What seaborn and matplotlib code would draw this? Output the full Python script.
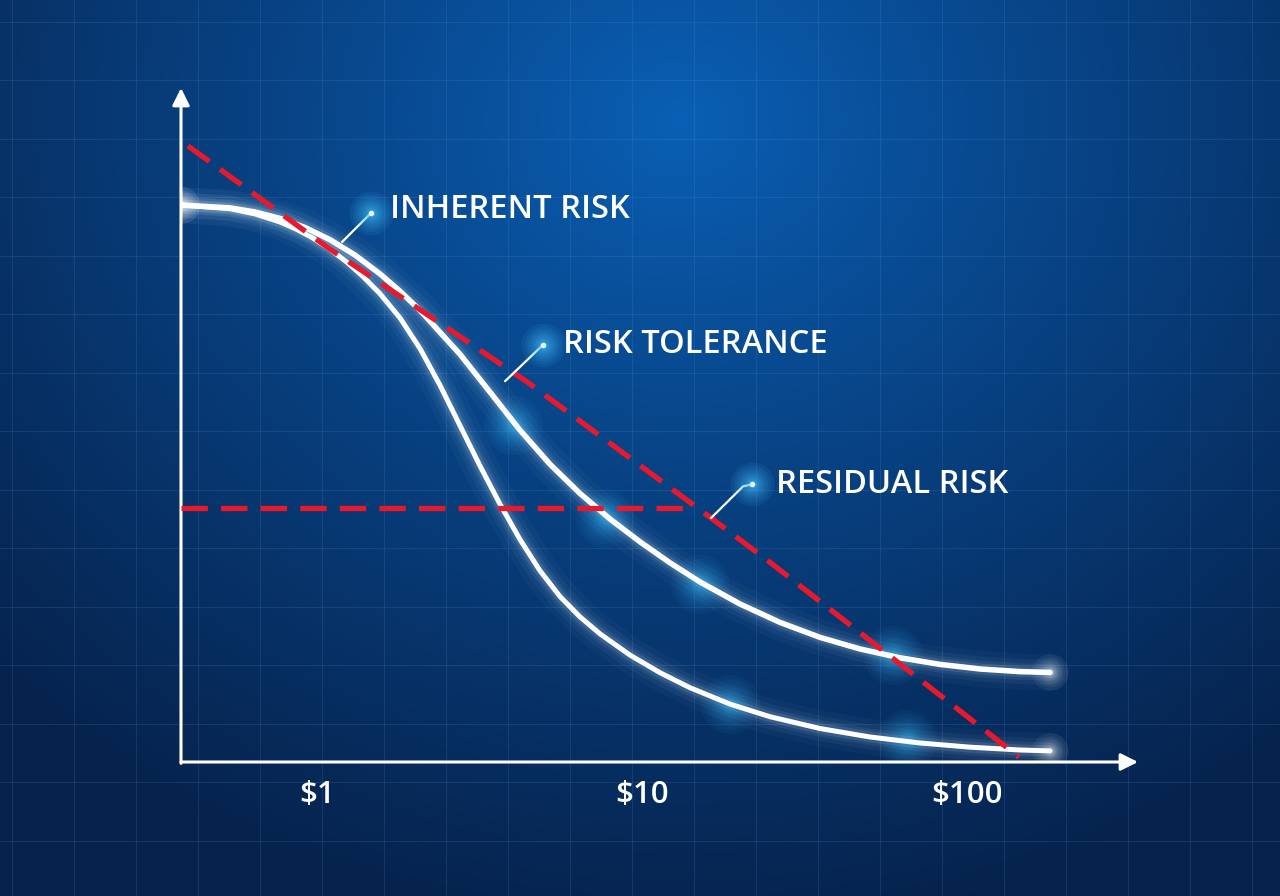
import numpy as np
import pandas as pd
import matplotlib
matplotlib.use('Agg')
import matplotlib.pyplot as plt
import seaborn as sns

sns.set_style('white')
plt.rcParams['font.family'] = ['Open Sans', 'DejaVu Sans']

# Inherent risk curve (outer white curve)
inherent_x = [0.3815, 0.5399, 0.6446, 0.7695, 0.9186, 1.0965, 1.3091, 1.5627, 1.8005, 2.0745,
              2.7542, 3.4065, 4.2133, 5.209, 6.4451, 7.9715, 9.8594, 12.194, 15.082, 20.024,
              26.584, 35.293, 46.857, 62.209, 82.588, 109.65, 145.57, 180.05]
inherent_y = [82.64, 82.21, 81.60, 80.65, 79.30, 77.49, 75.21, 72.42, 69.85, 67.02,
              60.49, 54.88, 49.23, 44.18, 39.84, 36.05, 32.67, 29.55, 26.71, 23.44,
              20.71, 18.49, 16.77, 15.46, 14.48, 13.80, 13.41, 13.29]

# Residual curve (inner white curve)
residual_x = [0.3815, 0.5399, 0.6446, 0.7695, 0.8618, 0.9721, 1.0965, 1.2367, 1.3852, 1.5627,
              1.8005, 2.0745, 2.3904, 2.7542, 3.1735, 3.6567, 4.2133, 4.8546, 5.5936, 6.4451,
              7.4263, 9.1850, 11.360, 14.050, 18.654, 24.765, 35.293, 50.297, 71.678, 102.15,
              145.57, 180.05]
residual_y = [82.64, 82.09, 81.32, 80.12, 79.08, 77.72, 76.07, 74.14, 72.03, 69.48,
              65.88, 61.35, 55.89, 49.91, 43.93, 38.25, 33.01, 28.37, 24.55, 21.53,
              19.01, 15.86, 13.25, 11.02, 8.59, 6.72, 4.97, 3.71, 2.82, 2.20,
              1.78, 1.65]

# red dashed lines
tolerance_x = [0.401, 1.073, 4.43, 16.31, 24.25, 144.5]
tolerance_y = [91.4, 76.4, 56.4, 36.2, 29.97, 0.74]
residual_level_x = [0.3815, 14.05]
residual_level_y = [37.7, 37.7]

# blue highlight spots on the curves
spots_x = [4.009, 7.695, 15.085, 59.2, 18.66, 65.4]
spots_y = [50.0, 36.2, 26.4, 15.9, 8.6, 3.4]

# labels
labels = ['INHERENT RISK', 'RISK TOLERANCE', 'RESIDUAL RISK']
label_x = [1.677, 5.71, 25.8]
label_y = [82.0, 62.0, 41.2]
leader_x = [[1.466, 1.194], [4.96, 3.79], [21.8, 20.46, 16.31]]
leader_y = [[81.45, 77.15], [61.9, 56.5], [41.2, 40.9, 36.2]]

tick_vals = [1, 10, 100]
tick_labels = [r'\$1', r'\$10', r'\$100']

W, H = 1280, 896
fig = plt.figure(figsize=(W / 100, H / 100), dpi=100)

# background gradient + faint grid
bg = fig.add_axes([0, 0, 1, 1])
yy, xx = np.mgrid[0:H, 0:W]
d = np.sqrt(((xx - 680) / 950.0) ** 2 + ((yy - 120) / 820.0) ** 2)
t = np.clip(d, 0, 1)[..., None] ** 0.9
c0 = np.array([0x0a, 0x60, 0xb6]) / 255.0
c1 = np.array([0x06, 0x22, 0x4c]) / 255.0
bg.imshow(c0 * (1 - t) + c1 * t, extent=[0, W, H, 0], aspect='auto')
for gx in np.arange(12, W, 62):
    bg.axvline(gx, color='#5f9fe0', lw=0.8, alpha=0.16)
for gy in np.arange(22, H, 58.5):
    bg.axhline(gy, color='#5f9fe0', lw=0.8, alpha=0.16)
bg.set_xlim(0, W)
bg.set_ylim(H, 0)
bg.axis('off')

ax = fig.add_axes([181 / W, 1 - 762 / H, (1138 - 181) / W, (762 - 88) / H])
ax.set_facecolor('none')
ax.set_xscale('log')
ax.set_xlim(0.3815, 335.8)
ax.set_ylim(0, 100)

df_inh = pd.DataFrame({'x': inherent_x, 'y': inherent_y})
df_res = pd.DataFrame({'x': residual_x, 'y': residual_y})


def soft_glow(xs, ys, color, smax, layers=12, alpha=0.05, z=3):
    for s in np.geomspace(smax, smax / 40, layers):
        ax.scatter(xs, ys, s=s, color=color, alpha=alpha, lw=0, zorder=z)


# glow behind curves
for lw, a in [(26, 0.03), (18, 0.05), (12, 0.07), (8, 0.12)]:
    for df in (df_inh, df_res):
        sns.lineplot(data=df, x='x', y='y', ax=ax, color='#cfeaff', lw=lw, alpha=a,
                     sort=False, estimator=None, solid_capstyle='round',
                     solid_joinstyle='round')

# highlight spots
soft_glow(spots_x, spots_y, '#38c0ff', 1800, layers=14, alpha=0.05)

for df, lw in ((df_inh, 4.0), (df_res, 3.6)):
    sns.lineplot(data=df, x='x', y='y', ax=ax, color='white', lw=lw,
                 sort=False, estimator=None, solid_capstyle='round',
                 solid_joinstyle='round', zorder=4)
    # glowing ends
    soft_glow([df.x.iloc[-1], df.x.iloc[0]], [df.y.iloc[-1], df.y.iloc[0]],
              'white', 700, layers=10, alpha=0.06)

dash = (0, (5.0, 2.5))
sns.lineplot(x=tolerance_x, y=tolerance_y, ax=ax, color='#e8192c', lw=3.8,
             linestyle=dash, sort=False, estimator=None, zorder=5)
sns.lineplot(x=residual_level_x, y=residual_level_y, ax=ax, color='#e8192c', lw=3.8,
             linestyle=dash, sort=False, estimator=None, zorder=5)

# annotations
for lab, tx, ty, lx, ly in zip(labels, label_x, label_y, leader_x, leader_y):
    ax.plot(lx, ly, color='white', lw=1.6, zorder=6)
    soft_glow([lx[0]], [ly[0]], '#45c2ff', 1000, layers=12, alpha=0.09, z=6)
    ax.scatter([lx[0]], [ly[0]], s=16, color='#e8f8ff', lw=0, zorder=6)
    ax.text(tx, ty, lab, color='white', fontsize=23.5, fontweight='semibold',
            va='center', ha='left', zorder=7)

# axes arrows
arrow = dict(arrowstyle='-|>', color='white', lw=2.2, mutation_scale=26, shrinkA=0, shrinkB=0)
ax.annotate('', xy=(0, 1), xytext=(0, -0.002), xycoords='axes fraction', arrowprops=arrow)
ax.annotate('', xy=(1, 0), xytext=(0, 0), xycoords='axes fraction', arrowprops=arrow)

for sp in ax.spines.values():
    sp.set_visible(False)
ax.set_xticks(tick_vals)
ax.set_xticklabels(tick_labels)
ax.xaxis.set_minor_locator(matplotlib.ticker.NullLocator())
ax.set_yticks([])
ax.tick_params(axis='x', length=0, pad=13, labelsize=22.5, labelcolor='white')
for lbl in ax.get_xticklabels():
    lbl.set_fontweight('semibold')
ax.set_xlabel('')
ax.set_ylabel('')

fig.savefig('out.png', dpi=100)
